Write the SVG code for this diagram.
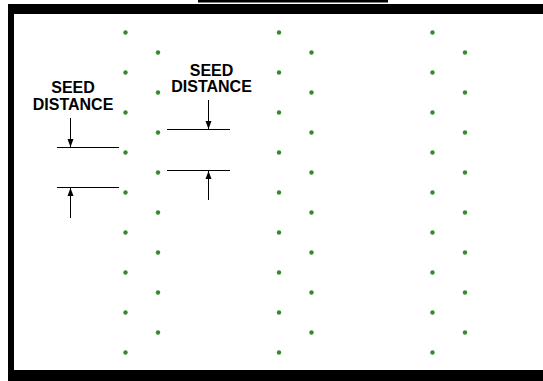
<svg xmlns="http://www.w3.org/2000/svg" width="543" height="381" viewBox="0 0 543 381">
<defs>
<style>
.dot{fill:#368a2e}
.lbl{font-family:"Liberation Sans",Arial,sans-serif;font-weight:bold;font-size:16px;fill:#000;text-anchor:middle}
.ln{stroke:#000;stroke-width:1;fill:none}
</style>
<marker id="ah" viewBox="0 0 8 8" refX="8" refY="4" markerWidth="8" markerHeight="8" markerUnits="userSpaceOnUse" orient="auto">
<path d="M0,1 L8,4 L0,7 Z" fill="#000"/>
</marker>
<g id="rowA"><circle class="dot" cx="0" cy="32.5" r="2.2"/><circle class="dot" cx="0" cy="72.5" r="2.2"/><circle class="dot" cx="0" cy="112.5" r="2.2"/><circle class="dot" cx="0" cy="152.5" r="2.2"/><circle class="dot" cx="0" cy="192.5" r="2.2"/><circle class="dot" cx="0" cy="232.5" r="2.2"/><circle class="dot" cx="0" cy="272.5" r="2.2"/><circle class="dot" cx="0" cy="312.5" r="2.2"/><circle class="dot" cx="0" cy="352.5" r="2.2"/></g>
<g id="rowB"><circle class="dot" cx="0" cy="52.5" r="2.2"/><circle class="dot" cx="0" cy="92.5" r="2.2"/><circle class="dot" cx="0" cy="132.5" r="2.2"/><circle class="dot" cx="0" cy="172.5" r="2.2"/><circle class="dot" cx="0" cy="212.5" r="2.2"/><circle class="dot" cx="0" cy="252.5" r="2.2"/><circle class="dot" cx="0" cy="292.5" r="2.2"/><circle class="dot" cx="0" cy="332.5" r="2.2"/></g>
</defs>
<rect width="543" height="381" fill="#fff"/>
<g id="frame">
<rect x="198" y="0" width="190" height="2.5" fill="#000"/>
<rect x="8" y="4" width="535" height="10" fill="#000"/>
<rect x="8" y="4" width="6" height="377" fill="#000"/>
<rect x="8" y="370" width="535" height="11" fill="#000"/>
</g>
<g id="seeds">
<use href="#rowA" x="125.5"/>
<use href="#rowB" x="158"/>
<use href="#rowA" x="279"/>
<use href="#rowB" x="311.5"/>
<use href="#rowA" x="432.5"/>
<use href="#rowB" x="465"/>
</g>
<g id="label-left">
<text class="lbl" x="73" y="93">SEED</text>
<text class="lbl" x="73" y="110">DISTANCE</text>
</g>
<g id="label-right">
<text class="lbl" x="211.5" y="76">SEED</text>
<text class="lbl" x="211.5" y="92">DISTANCE</text>
</g>
<g id="connectors">
<line class="ln" x1="57" y1="147.5" x2="119" y2="147.5"/>
<line class="ln" x1="57" y1="187.5" x2="119" y2="187.5"/>
<line class="ln" x1="70.5" y1="118" x2="70.5" y2="147" marker-end="url(#ah)"/>
<line class="ln" x1="70.5" y1="218" x2="70.5" y2="188" marker-end="url(#ah)"/>
<line class="ln" x1="167" y1="129.5" x2="230" y2="129.5"/>
<line class="ln" x1="167" y1="170.5" x2="230" y2="170.5"/>
<line class="ln" x1="208.5" y1="100" x2="208.5" y2="129" marker-end="url(#ah)"/>
<line class="ln" x1="208.5" y1="200" x2="208.5" y2="171" marker-end="url(#ah)"/>
</g>
</svg>
